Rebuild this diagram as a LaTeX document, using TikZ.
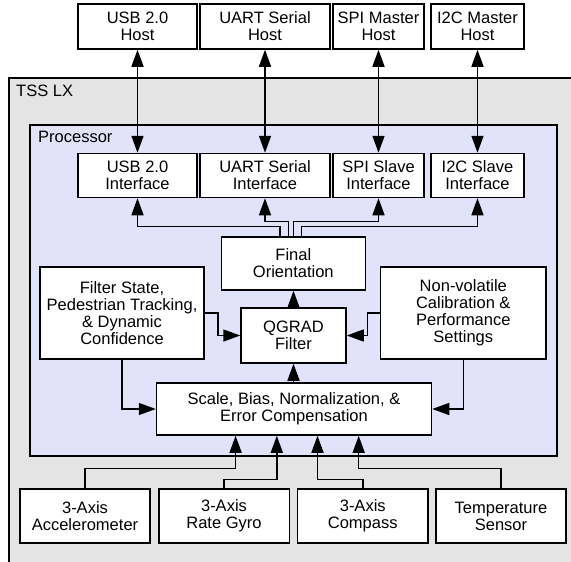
\documentclass[tikz,border=0pt]{standalone}
\usepackage{fontspec}
\setmainfont{Liberation Sans}
\usetikzlibrary{arrows.meta}
\definecolor{tssgray}{RGB}{228,228,228}
\definecolor{procblue}{RGB}{226,226,250}
\begin{document}
\begin{tikzpicture}[x=1pt,y=-1pt,
  blk/.style={draw=black, line width=1.5pt, fill=white, align=center, inner sep=0pt, font=\fontsize{16.5}{17}\selectfont},
  cont/.style={draw=black, line width=1.5pt, inner sep=0pt, anchor=north west},
  lbl/.style={anchor=west, inner sep=0pt, font=\fontsize{16.5}{17}\selectfont},
  tip/.style={Triangle[length=17pt,width=12pt]},
  conn/.style={line width=1.5pt, -{Triangle[length=17pt,width=12pt]}},
  bidir/.style={line width=1.5pt, {Triangle[length=17pt,width=12pt]}-{Triangle[length=17pt,width=12pt]}}]
\useasboundingbox (0,0) rectangle (571,562);
\clip (0,0) rectangle (571,562);
% containers
\node[cont, fill=tssgray, minimum width=580pt, minimum height=500pt] (tss) at (8,77) {};
\node[lbl] (tsslbl) at (16,91) {TSS LX};
\node[cont, fill=procblue, minimum width=527pt, minimum height=331pt] (proc) at (29,124) {};
\node[lbl] (proclbl) at (38,137) {Processor};
% hosts
\node[blk, minimum width=119pt, minimum height=45pt] (usbh) at (137.5,26.5) {USB 2.0\\Host};
\node[blk, minimum width=130pt, minimum height=45pt] (uarth) at (265,26.5) {UART Serial\\Host};
\node[blk, minimum width=91pt, minimum height=45pt] (spih) at (378.5,26.5) {SPI Master\\Host};
\node[blk, minimum width=93pt, minimum height=45pt] (i2ch) at (477.5,26.5) {I2C Master\\Host};
% interfaces
\node[blk, minimum width=119pt, minimum height=44pt] (usbi) at (137.5,175.5) {USB 2.0\\Interface};
\node[blk, minimum width=130pt, minimum height=44pt] (uarti) at (265,175.5) {UART Serial\\Interface};
\node[blk, minimum width=91pt, minimum height=44pt] (spii) at (378.5,175.5) {SPI Slave\\Interface};
\node[blk, minimum width=93pt, minimum height=44pt] (i2ci) at (477.5,175.5) {I2C Slave\\Interface};
% core
\node[blk, minimum width=144pt, minimum height=53pt] (final) at (293.3,263.5) {Final\\Orientation};
\node[blk, minimum width=164pt, minimum height=92pt] (filt) at (122,313) {Filter State,\\Pedestrian Tracking,\\\& Dynamic\\Confidence};
\node[blk, minimum width=165.5pt, minimum height=92pt] (nv) at (463.3,313) {Non-volatile\\Calibration \&\\Performance\\Settings};
\node[blk, minimum width=105pt, minimum height=55pt] (qgrad) at (293.5,335.5) {QGRAD\\Filter};
\node[blk, minimum width=275pt, minimum height=52pt] (scale) at (294,409) {Scale, Bias, Normalization, \&\\Error Compensation};
% sensors
\node[blk, minimum width=130pt, minimum height=54pt] (accel) at (85,516) {3-Axis\\Accelerometer};
\node[blk, minimum width=130.5pt, minimum height=54pt] (gyro) at (224,516) {3-Axis\\Rate Gyro};
\node[blk, minimum width=130.5pt, minimum height=54pt] (comp) at (362.75,516) {3-Axis\\Compass};
\node[blk, minimum width=130pt, minimum height=54pt] (temp) at (501,516) {Temperature\\Sensor};
% host links
\draw[bidir] (usbh.south) -- (usbi.north);
\draw[bidir] (uarth.south) -- (uarti.north);
\draw[bidir] (spih.south) -- (spii.north);
\draw[bidir] (i2ch.south) -- (i2ci.north);
% final to interfaces
\draw[conn] ([xshift=-13.3pt]final.north) -- ++(0,-10) -| (usbi.south);
\draw[conn] ([xshift=-5pt]final.north) -- ++(0,-15) -| (uarti.south);
\draw[conn] (final.north) -- ++(0,-15) -| (spii.south);
\draw[conn] ([xshift=8.4pt]final.north) -- ++(0,-10) -| (i2ci.south);
% core links
\draw[conn] (qgrad.north) -- (qgrad.north |- final.south);
\draw[conn] (scale.north -| qgrad.south) -- (qgrad.south);
\draw[conn] (filt.east) -- ++(13,0) |- (qgrad.west);
\draw[conn] (nv.west) -- ++(-12.5,0) |- (qgrad.east);
\draw[conn] (filt.south) |- (scale.west);
\draw[conn] (nv.south) |- (scale.east);
% sensor links
\draw[conn] (accel.north) -- ++(0,-20) -| ([xshift=-58.4pt]scale.south);
\draw[conn] (gyro.north) -- ++(0,-9) -| ([xshift=-17.2pt]scale.south);
\draw[conn] (comp.north) -- ++(0,-9) -| ([xshift=23.5pt]scale.south);
\draw[conn] (temp.north) -- ++(0,-20) -| ([xshift=64.7pt]scale.south);
\end{tikzpicture}
\end{document}
